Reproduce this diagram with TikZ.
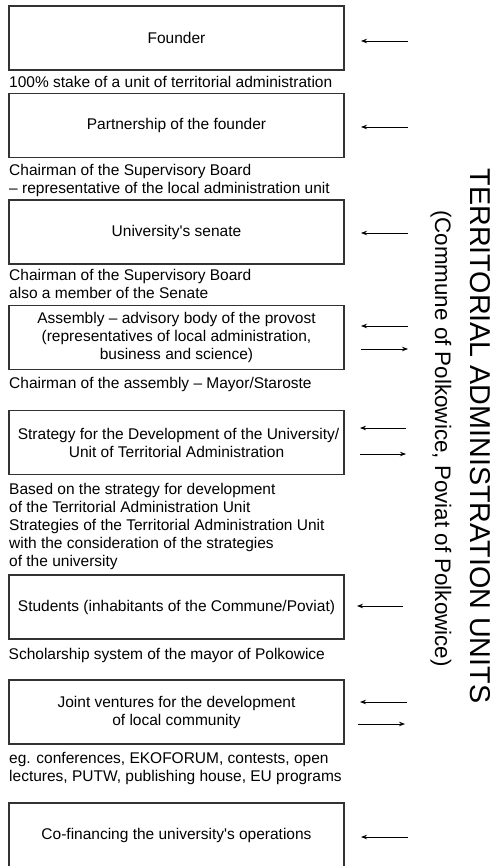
\documentclass[tikz,border=0pt]{standalone}
\usepackage{fontspec}
\setmainfont{Liberation Sans}
\usetikzlibrary{arrows.meta}
\begin{document}
\begin{tikzpicture}[x=1pt,y=-1pt,
 box/.style={draw=black!80, line width=1.1pt, minimum width=335pt, minimum height=64pt, inner sep=0pt, align=center, font=\fontsize{15.5}{18}\selectfont},
 lbl/.style={anchor=base west, inner sep=0pt, align=left, font=\fontsize{15.5}{18}\selectfont},
 arr/.style={-{Stealth[length=6pt,width=4.5pt]}, line width=0.8pt}]
\useasboundingbox (0,0) rectangle (493,866);
\fill[white] (0,0) rectangle (493,866);
% boxes
\node[box] (b1) at (176.5,38) {Founder};
\node[box] (b2) at (176.5,125.5) {Partnership of the founder};
\node[box] (b3) at (176.5,232) {University\textquotesingle s senate};
\node[box] (b4) at (176.5,337.5) {Assembly – advisory body of the provost\\(representatives of local administration,\\business and science)};
\node[box] (b5) at (176.5,442.5) {\hspace*{4pt}Strategy for the Development of the University/\\Unit of Territorial Administration};
\node[box] (b6) at (176.5,607) {Students (inhabitants of the Commune/Poviat)};
\node[box] (b7) at (176.5,712) {Joint ventures for the development\\of local community};
\node[box] (b8) at (176.5,835) {Co-financing the university\textquotesingle s operations};
% labels (anchor at baseline of the last line)
\node[lbl] (l1) at (9,87.5) {100\% stake of a unit of territorial administration};
\node[lbl] (l2) at (9,193.5) {Chairman of the Supervisory Board\\– representative of the local administration unit};
\node[lbl] (l3) at (9,298.5) {Chairman of the Supervisory Board\\also a member of the Senate};
\node[lbl] (l4) at (9,388.5) {Chairman of the assembly – Mayor/Staroste};
\node[lbl] (l5) at (9,566.5) {Based on the strategy for development\\of the Territorial Administration Unit\\Strategies of the Territorial Administration Unit\\with the consideration of the strategies\\of the university};
\node[lbl] (l6) at (8.5,659.5) {Scholarship system of the mayor of Polkowice};
\node[lbl] (l7) at (9,781.5) {eg. conferences, EKOFORUM, contests, open\\lectures, PUTW, publishing house, EU programs};
% side titles
\node[rotate=-90, inner sep=0pt, font=\fontsize{28.7}{30}\selectfont] (title) at (480,436) {TERRITORIAL ADMINISTRATION UNITS};
\node[rotate=-90, inner sep=0pt, font=\fontsize{22.4}{24}\selectfont] (sub) at (441,438.5) {(Commune of Polkowice, Poviat of Polkowice)};
% arrow end points
\coordinate (a1s) at (408,41);  \coordinate (a1e) at (361,41);
\coordinate (a2s) at (408,127); \coordinate (a2e) at (361,127);
\coordinate (a3s) at (408,233); \coordinate (a3e) at (361,233);
\coordinate (a4s) at (408,326); \coordinate (a4e) at (361,326);
\coordinate (a5s) at (361,349); \coordinate (a5e) at (408,349);
\coordinate (a6s) at (406,428); \coordinate (a6e) at (360,428);
\coordinate (a7s) at (360,454); \coordinate (a7e) at (406,454);
\coordinate (a8s) at (403,606); \coordinate (a8e) at (357,606);
\coordinate (a9s) at (407,702); \coordinate (a9e) at (360,702);
\coordinate (a10s) at (358,724); \coordinate (a10e) at (405,724);
\coordinate (a11s) at (408,837); \coordinate (a11e) at (361,837);
\foreach \i in {1,...,11} \draw[arr] (a\i s) -- (a\i e);
\end{tikzpicture}
\end{document}
